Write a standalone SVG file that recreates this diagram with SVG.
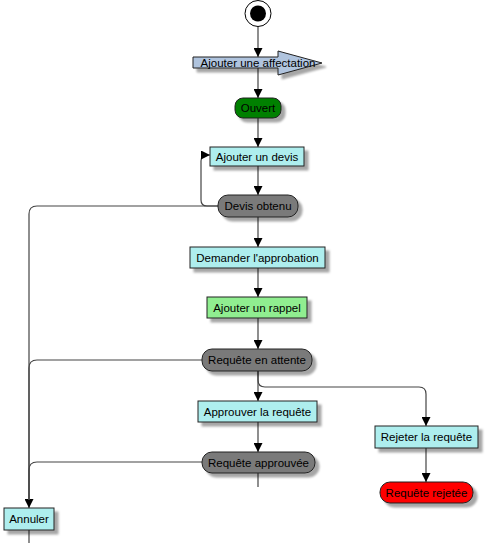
<svg xmlns="http://www.w3.org/2000/svg" width="486" height="543" viewBox="0 0 486 543">
<defs>
<filter id="sh" x="-20%" y="-30%" width="140%" height="170%">
<feDropShadow dx="4" dy="4" stdDeviation="1.2" flood-color="#000" flood-opacity="0.35"/>
</filter>
<marker id="ah" viewBox="0 0 10 10" refX="10" refY="5" markerWidth="9" markerHeight="9" markerUnits="userSpaceOnUse" orient="auto">
<path d="M0,0 L10,5 L0,10 z" fill="#000"/>
</marker>
<style>
.n{stroke:#222;stroke-width:1;filter:url(#sh)}
.t{font-family:"Liberation Sans",Arial,sans-serif;font-size:11.5px;fill:#000;text-anchor:middle;dominant-baseline:central}
.c{fill:none;stroke:#444;stroke-width:1.2}
.a{marker-end:url(#ah)}
.act{fill:#AEEEEE}
.st{fill:#7A7A7A}
</style>
</defs>
<rect width="486" height="543" fill="#fff"/>
<g id="connectors">
<path class="c a" d="M258,27 V57"/>
<path class="c a" d="M258,68 V98"/>
<path class="c a" d="M258,118 V147"/>
<path class="c a" d="M258,166 V195"/>
<path class="c a" d="M218,206 H207 Q201,206 201,200 V161 Q201,155 207,155 H210"/>
<path class="c a" d="M218,206 H37 Q29,206 29,214 V508"/>
<path class="c a" d="M258,217 V247"/>
<path class="c a" d="M258,268 V297"/>
<path class="c a" d="M258,318 V349"/>
<path class="c a" d="M258,371 V401"/>
<path class="c" d="M202,360 H37 Q29,360 29,368 V500"/>
<path class="c a" d="M258,371 V380 Q258,387 265,387 H419 Q426,387 426,394 V426"/>
<path class="c a" d="M258,422 V452"/>
<path class="c" d="M202,462 H37 Q29,462 29,470 V500"/>
<path class="c" d="M258,473 V487"/>
<path class="c a" d="M426,448 V482"/>
<path class="c" d="M29,530 V543"/>
</g>
<g id="start">
<circle cx="258" cy="13.5" r="13" fill="#fff" stroke="#000" stroke-width="1"/>
<circle cx="258" cy="13.5" r="8" fill="#000"/>
</g>
<g id="ajouter-affectation">
<polygon class="n" points="193,57 278,57 278,51 322,63 278,75 278,68 193,68" fill="#B0C4DE"/>
<text class="t" x="258" y="62.5">Ajouter une affectation</text>
</g>
<g id="ouvert">
<rect class="n" x="235" y="98" width="46" height="20" rx="8" fill="#008000"/>
<text class="t" x="258" y="108">Ouvert</text>
</g>
<g id="ajouter-devis">
<rect class="n act" x="210" y="147" width="94" height="19"/>
<text class="t" x="257" y="156.5">Ajouter un devis</text>
</g>
<g id="devis-obtenu">
<rect class="n st" x="218" y="195" width="80" height="22" rx="10"/>
<text class="t" x="258" y="206">Devis obtenu</text>
</g>
<g id="demander-approbation">
<rect class="n act" x="190" y="247" width="135" height="21"/>
<text class="t" x="257.5" y="257.5">Demander l'approbation</text>
</g>
<g id="ajouter-rappel">
<rect class="n" x="207" y="297" width="100" height="21" fill="#90EE90"/>
<text class="t" x="257" y="307.5">Ajouter un rappel</text>
</g>
<g id="requete-attente">
<rect class="n st" x="202" y="349" width="110" height="22" rx="10"/>
<text class="t" x="257" y="360">Requête en attente</text>
</g>
<g id="approuver-requete">
<rect class="n act" x="198" y="401" width="119" height="21"/>
<text class="t" x="257.5" y="411.5">Approuver la requête</text>
</g>
<g id="requete-approuvee">
<rect class="n st" x="202" y="452" width="113" height="21" rx="10"/>
<text class="t" x="258.5" y="462.5">Requête approuvée</text>
</g>
<g id="rejeter-requete">
<rect class="n act" x="375" y="426" width="103" height="22"/>
<text class="t" x="426.5" y="437">Rejeter la requête</text>
</g>
<g id="requete-rejetee">
<rect class="n" x="380" y="482" width="93" height="21" rx="10" fill="#FF0000"/>
<text class="t" x="426.5" y="492.5">Requête rejetée</text>
</g>
<g id="annuler">
<rect class="n act" x="4" y="508" width="50" height="22"/>
<text class="t" x="29" y="519">Annuler</text>
</g>
</svg>
